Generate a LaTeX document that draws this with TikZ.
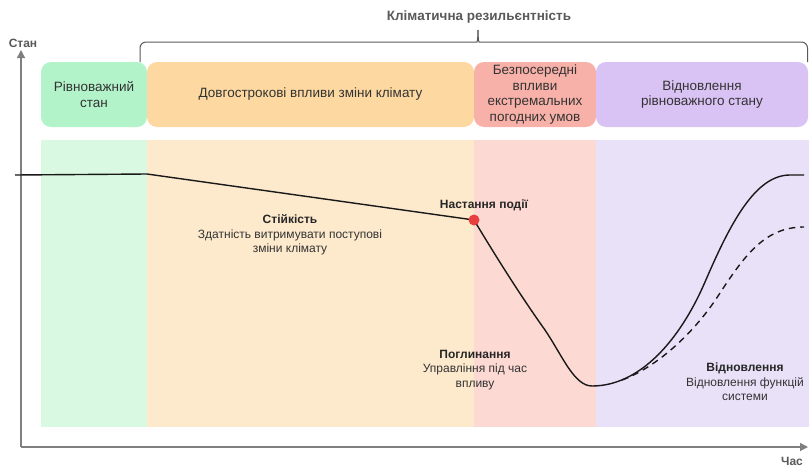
\documentclass[tikz,border=0pt]{standalone}
\usepackage{fontspec}
\setmainfont{Liberation Sans}
\usetikzlibrary{arrows.meta}

\definecolor{eqHead}{HTML}{B2F3CA}
\definecolor{eqBg}{HTML}{D9F9E3}
\definecolor{longHead}{HTML}{FDD9A1}
\definecolor{longBg}{HTML}{FDEACD}
\definecolor{shockHead}{HTML}{F8B1A8}
\definecolor{shockBg}{HTML}{FCD9D3}
\definecolor{recHead}{HTML}{D9C2F4}
\definecolor{recBg}{HTML}{E9E1F8}
\definecolor{axisGray}{HTML}{7F7F7F}
\definecolor{textGray}{HTML}{333333}
\definecolor{dotRed}{HTML}{E84040}

\begin{document}
\begin{tikzpicture}[x=1pt, y=-1pt, >={Triangle[length=8pt, width=8pt]},
  headbox/.style={rounded corners=10pt, inner sep=0pt, align=center,
    text=textGray, font=\fontsize{13.5}{15.5}\selectfont},
  phase/.style={align=center, text=textGray, font=\fontsize{12}{14.5}\selectfont},
  axis/.style={axisGray, line width=1.4pt},
  curve/.style={line width=1.4pt, black!90, line join=round},
  brace/.style={black!65, line width=1pt, rounded corners=6pt}]

  \useasboundingbox (0,0) rectangle (809,469);

  % Background bands
  \fill[eqBg] (41,140) rectangle (147,427);
  \fill[longBg] (147,140) rectangle (474,427);
  \fill[shockBg] (474,140) rectangle (596,427);
  \fill[recBg] (596,140) rectangle (809,427);

  % Header boxes
  \node[headbox, fill=eqHead, minimum width=106pt, minimum height=65pt] (hEq) at (94,94.5) {Рівноважний\\стан};
  \node[headbox, fill=longHead, minimum width=327pt, minimum height=65pt] (hLong) at (310.5,94.5) {Довгострокові впливи зміни клімату};
  \node[headbox, fill=shockHead, minimum width=122pt, minimum height=65pt] (hShock) at (535,94.5) {Безпосередні\\впливи\\екстремальних\\погодних умов};
  \node[headbox, fill=recHead, minimum width=212pt, minimum height=65pt] (hRec) at (702,94.5) {Відновлення\\рівноважного стану};

  % Brace over the resilience phases
  \draw[brace] (140,62) -- (140,42) -- (471,42) .. controls (477,42) and (478,40) .. (478,30);
  \draw[brace] (478,30) .. controls (478,40) and (479,42) .. (485,42) -- (807.5,42) -- (807.5,62);
  \node[font=\fontsize{13.5}{15}\selectfont\bfseries, text=black!65] (title) at (479,17) {Кліматична резильєнтність};

  % Axes
  \draw[axis, ->] (21,447) -- (21,50);
  \draw[axis, ->] (21,447) -- (808,447);
  \node[font=\fontsize{12}{13}\selectfont\bfseries, text=black!65] (yLabel) at (23,43) {Стан};
  \node[font=\fontsize{12}{13}\selectfont\bfseries, text=black!65] (xLabel) at (792,461) {Час};

  % System state curve
  \draw[curve] (15,175) -- (147,174) -- (474,220)
    .. controls (495,255) and (520,295) .. (545,330)
    .. controls (562,355) and (574,386) .. (592,386)
    .. controls (640,386) and (680,340) .. (705,282)
    .. controls (730,224) and (755,175) .. (790,175) -- (804,175);
  % reduced recovery
  \draw[curve, dash pattern=on 6.5pt off 5pt] (622,380)
    .. controls (650,370) and (690,340) .. (720,293)
    .. controls (745,255) and (765,227) .. (804,227);

  % Onset of the event
  \node[circle, fill=dotRed, minimum size=11pt, inner sep=0pt] (onset) at (474,220) {};
  \node[font=\fontsize{12}{13}\selectfont\bfseries, text=black!85] (onsetLabel) at (484,205) {Настання події};

  % Phase labels
  \node[phase] (robust) at (290,235) {\textbf{\textcolor{black!85}{Стійкість}}\\Здатність витримувати поступові\\зміни клімату};
  \node[phase] (absorb) at (475,370) {\textbf{\textcolor{black!85}{Поглинання}}\\Управління під час\\впливу};
  \node[phase] (recover) at (745,382) {\textbf{\textcolor{black!85}{Відновлення}}\\Відновлення функцій\\системи};

\end{tikzpicture}
\end{document}
